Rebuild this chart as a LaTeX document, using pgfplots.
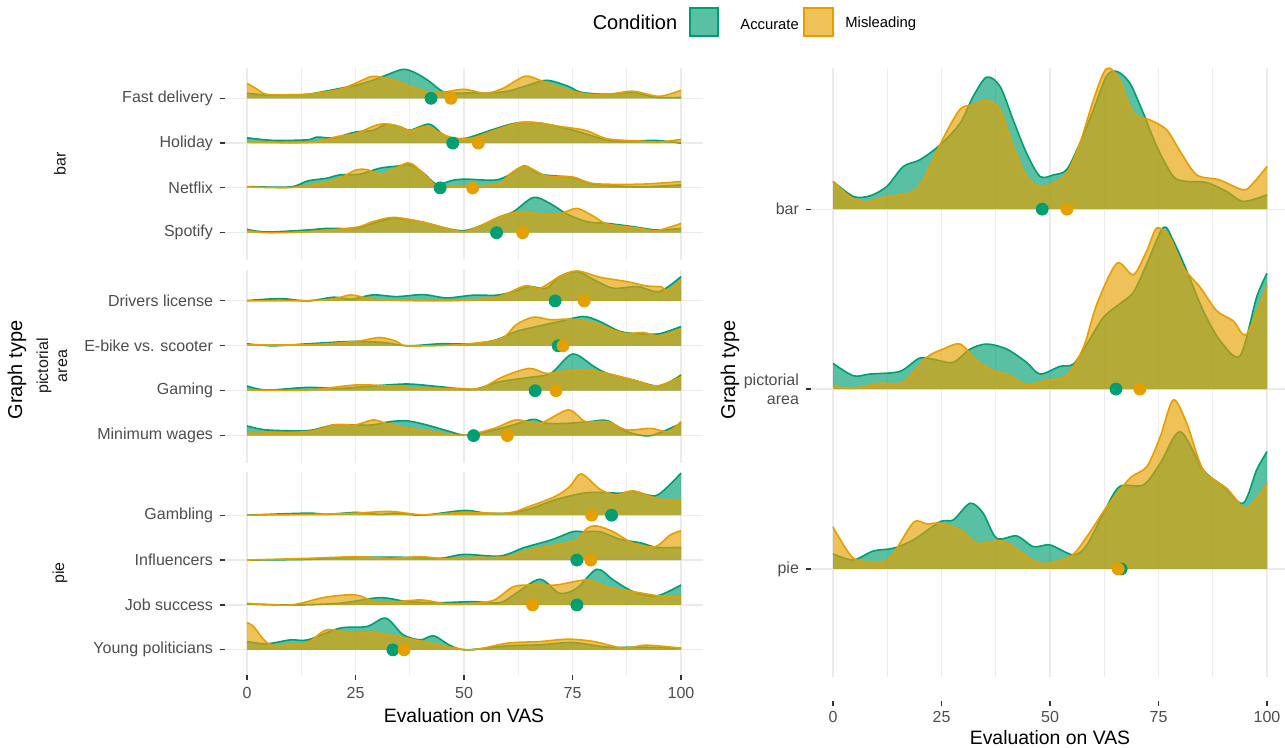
\documentclass[border=0pt]{standalone}
\usepackage{fontspec}
\setmainfont{Liberation Sans}
\usepackage{pgfplots}
\pgfplotsset{compat=1.18}
\usepackage{pgfplotstable}

\definecolor{acc}{HTML}{009E73}
\definecolor{mis}{HTML}{E69F00}
\definecolor{gridc}{HTML}{EBEBEB}
\definecolor{tickc}{HTML}{333333}
\definecolor{labc}{HTML}{4D4D4D}
\definecolor{stripc}{HTML}{1A1A1A}

% heights h are in pixels of the reference above each ridge's baseline
% ---------- left panel, bar ----------
\pgfplotstableread{
x h
0 5
4.5 3.3
10 3.5
14 4
17.6 6.7
25 13
29 18
32 23
36 29
39 25
42 17
45 7
48 5
52 5.5
55 5
60 7
64 12
69 18
74 12
77 6
83 4
89 6
94 1
100 0.8
}\FDa
\pgfplotstableread{
x h
0 15
2 10
4.5 4
10 3.5
14 4
21.4 9
26 17
29 22
33 19
37 13
41 7
45 6
50 9
55 5
59 10
64 22
67.5 18
71 12
75 7
79 4
84 4.5
89 7
95 2
100 8
}\FDm
\pgfplotstableread{
x h
0 5.3
6 2.7
14 3.3
16 6
20 5.3
25 11
29 12.7
32 18.7
35 16.7
37.6 13
42 19
45 9
47.5 5
50.6 5
57 14
62 20
67.5 20
75 13
83 3
87.5 1.7
94 2.7
100 0
}\HOa
\pgfplotstableread{
x h
0 1
10 0.3
16 1.3
21 6.7
25 9.3
29 16.7
31.4 19.3
34.5 17.3
37.6 12.7
41.4 16.7
44.5 10
47.5 5
52 5
57 12.7
63 20.7
67.5 20
72 16.7
78 12.7
83 4.3
90.6 2
95 1
100 3.7
}\HOm
\pgfplotstableread{
x h
0 1.3
10 1
14 7
18.4 9.7
21.4 13
26 13.7
30.6 19.7
34.5 21.7
37.6 23
40.6 15
43.7 3.7
47.5 7.7
50.6 8.7
57 7.7
60 12
64 22
67.5 13.7
75 10.3
80 3.7
90.6 1
100 3
}\NEa
\pgfplotstableread{
x h
0 1
10 0.3
18 5.3
21.4 9.7
25 17.7
27.6 18.3
31.4 13.7
37 25
40 17
43.7 2
47.5 1
52 2
58 3.7
60.6 13.7
64 21.7
69 12
75 11
80 4.3
90.6 3.7
100 6.3
}\NEm
\pgfplotstableread{
x h
0 3.3
4.5 0.7
14 2.7
18.4 4.3
25 4.3
29 9.3
33.7 14.3
40 11
46 4.3
50 2
53.7 6.7
58.3 16
61.4 21
66 35.3
69.8 29.3
73.7 18.7
78.3 11
83 9.3
89 6
94.4 2.7
100 4.3
}\SPa
\pgfplotstableread{
x h
0 2
4.5 0
14 1
25 5.3
29 11
33.7 15.3
40 11
46 4.3
50 1
53.7 6.7
58.3 16
63 21
67.5 18.7
72 18.7
76 24.3
80 16
83 8.7
90.6 4.3
94.4 2
100 9.3
}\SPm
% ---------- left panel, pictorial area ----------
\pgfplotstableread{
x h
0 0.3
7.6 2.3
14 0
20 3.7
24 1.7
29 6
34.5 4.3
40.6 6.3
46 3
52 5.7
57.5 5.7
61.4 9.3
65 14.3
69 12.7
72 24.3
76 29.3
80 21
84.4 12.7
90 14.3
95 9.3
100 24.3
}\DLa
\pgfplotstableread{
x h
0 0
14 0.3
20 2
24 6
29 1.7
37 0.3
48 0.3
57.5 3.7
64 15
67.5 12.7
72 24.3
76 30
81.3 23.7
87.5 19.3
92 15
95.5 14
97 10
100 21
}\DLm
\pgfplotstableread{
x h
0 2
6 0
14 2
24 4.3
31.4 3.3
37 0
44.5 2
52 2
57.5 6
62 14.3
67.5 20
72 24.3
77.5 29.3
81.3 24.3
86 14.3
90.6 12
95 12
100 19.3
}\EBa
\pgfplotstableread{
x h
0 1
14 1
25 4.3
30.6 8.3
34.5 4.3
37 0
48.3 1
58.3 6.7
62 21
66 28.7
70 26
74.4 26.7
80 22.7
86.7 12.7
91.3 13.3
95 10
100 16.7
}\EBm
\pgfplotstableread{
x h
0 4.7
4.5 0.7
14 3.3
21.4 2.3
29 4.7
37 6.7
44.5 4
52 1.3
58.3 9
65 13.3
70 17.3
75 36.7
80 24
83 17.3
89 10.7
95 4.7
100 15.7
}\GAa
\pgfplotstableread{
x h
0 0.7
14 0.7
25 5.7
33 4.7
40.6 2.3
48.3 2.3
53.7 2.3
59 14
65 22.3
69 17.3
74 20
78.3 20.7
83 17.3
89 10.7
94.4 4.7
100 14
}\GAm
\pgfplotstableread{
x h
0 9.7
4.5 5.7
14 5
20 10.7
25 10.7
29 10.7
33 14
37 14.7
41.4 10.7
46 5
50.6 0.3
57 5.7
61.4 10.7
66 16.3
69 12.3
74 12.3
79 14
83 15
87.5 4
93 0
100 12.3
}\MWa
\pgfplotstableread{
x h
0 2.3
14 4
20 10.7
25 10.7
29 15.7
32 12.3
37 7.3
41.4 5
46 1.7
50.6 0.5
57 7.3
62 15.7
67.5 12.3
74 25.7
78 14
83 14
87.5 5.7
93 7.3
97 4
100 14
}\MWm
% ---------- left panel, pie ----------
\pgfplotstableread{
x h
0 0
14 2
18.4 0.7
25 2.7
30.6 0.7
34.5 2
40.6 0
50 4.7
55 2
60 2
65 6
71 15.3
77.5 22
81.3 22.7
86 22
89 23.7
94 19.3
97 28.7
100 42
}\GBa
\pgfplotstableread{
x h
0 0
14 0.7
25 2
33 3.7
40.6 0.3
50 2.7
60 2
65 8.7
71 18.7
74.4 28.7
77 41.3
81.3 26
85 20.3
89 24.3
94 17
97 14.7
100 14.7
}\GBm
\pgfplotstableread{
x h
0 0
14 0.7
25 2.7
37 2.7
44.5 1.7
50 5.7
58.3 4
64 12.7
70 20
75 28.3
77.5 28.3
81.3 28.3
86 20.7
90.6 17.3
94.4 12.7
100 12.7
}\INa
\pgfplotstableread{
x h
0 0
14 1.7
25 3.3
33 1.7
40 3.3
46 1.3
52 2.7
60 3.3
65 10
71 15
76 20
78.3 31.7
80.6 34
84.4 28.3
89 16.7
94 13.3
97.5 25
100 29.3
}\INm
\pgfplotstableread{
x h
0 1
10 0
21.4 1.7
30.6 7.3
37 3.3
44.5 2.3
52 3.3
58.3 2.3
62 11.7
67.5 25.7
72 11.7
76 16.7
80.6 35.7
84.4 25
89 13.3
94.4 9
100 20
}\JSa
\pgfplotstableread{
x h
0 1.7
10 0
18 7.7
25 10
30.6 2.3
40 5
46 1
52 1.5
57 5
61.4 18.3
66 20
71.3 20
78.3 25
83 17.7
89 13.3
95 9
100 8.3
}\JSm
\pgfplotstableread{
x h
0 8.3
4.5 6
10 10
14 10
21.4 21.7
27.6 23.3
32 31.7
36 15
40 10
43 14
47 4
50.6 0
60 4
67.5 5
75 7.3
83 2.7
90.6 2.7
100 1.7
}\YPa
\pgfplotstableread{
x h
0 27.3
1.5 23.3
5 6
10 5
14 7.3
18.4 20
24 16.7
29 17.3
35 13.3
40.6 8.3
46 3.3
52 0
60 6.7
67.5 8.3
74 10.7
80 8.3
86.7 1.7
92 4.7
100 1.7
}\YPm
% ---------- right panel ----------
\pgfplotstableread{
x h
0 27.7
4.7 12.7
8.5 13.3
12.4 22.7
16.2 42.7
20 49.3
24.7 64.3
29.3 86
32.3 112.7
35.4 132
38.5 122.7
41.5 89.3
44.6 56
47.7 32.7
50.8 34.3
53.8 39.3
56.9 66
60 99.3
63 132.7
65.4 137.7
68.4 126
71.5 96
74.6 62.7
78.4 32.7
81.5 27.7
86 26.7
90.7 17.7
94.5 7.7
100 14.3
}\RBa
\pgfplotstableread{
x h
0 27.7
4.7 10
8.5 7.7
12.4 12.7
17.7 16
20.8 29.3
25.4 71
29.3 100
32.3 104.3
35.4 108.7
38.5 99.3
41.5 62.7
44.6 32.7
47.7 22
50.8 26
53.8 35.3
56.9 66
60 109.3
62.3 136
63.8 141
66 129.3
69.2 96
73 89.3
76.9 79.3
80 57.7
83.8 34.3
89 29.3
94.5 19.3
96.8 26
100 42.7
}\RBm
\pgfplotstableread{
x h
0 25.7
4.7 13.3
8.5 15
15.4 17.7
20 31
23.9 29
27.7 26.7
31.6 40
35.4 45
40 40
44.6 26.7
47.7 15
52.3 22.7
55.4 25
58.5 45
62.3 71.7
66 85
69.2 96.7
72.3 125
76.1 161.7
78.4 148.3
81.5 118.3
85.3 78.3
89.2 48.3
93.8 33.3
97.6 91.7
100 115.7
}\RPa
\pgfplotstableread{
x h
0 2.7
4.7 0.7
10.8 5.7
16.2 6.7
21.6 31.7
25.4 40
29.3 45
33.1 28.3
37 18.3
40 15
44.6 4.3
49.2 9
53.8 13.3
57.7 41.7
60.8 85
65.4 125.7
69.2 114.3
72.3 138.3
74.6 161
77.6 151.7
80.7 121.7
84.6 101.7
88.4 78.3
92.2 68.3
95.3 55
100 103.3
}\RPm
\pgfplotstableread{
x h
0 15
4.7 9
9.3 18
13.9 20.7
18.5 29
24.7 47.3
27.7 49
31.6 65.7
34.6 55.7
37.7 30.7
42.3 33
46.2 22.3
50 24
55.4 14
58.5 24
62.3 55.7
66 82.3
71.5 84
75.4 105.7
80 137.3
85.3 99
90 82.3
94.5 65.7
97.6 99
100 117.3
}\RIa
\pgfplotstableread{
x h
0 42.3
0.8 35.7
4.7 10.7
9.3 7.3
13.1 10.7
18.5 46.3
21.6 45
24.7 45.7
29.3 39
33.1 25.7
38.5 28.3
41.5 22.3
47.7 5.7
54.6 12.3
58.5 32.3
63.1 62.3
68.4 90.7
72.3 102.3
75.4 132.3
78.4 169
81.5 145.7
85.3 99
90.7 80.7
95.3 60.7
100 85
}\RIm

\pgfplotsset{
  ridgeax/.style={
    scale only axis, x=2.17pt, xmin=-5.07, xmax=105.07,
    axis line style={draw=none},
    tick pos=left, tick align=outside,
    major tick length=2.5pt, minor tick length=0pt,
    tick style={draw=tickc, line width=0.6pt},
    xtick={0,25,50,75,100}, minor xtick={12.5,37.5,62.5,87.5},
    xmajorgrids, xminorgrids, ymajorgrids,
    major grid style={draw=gridc, line width=0.6pt},
    minor grid style={draw=gridc, line width=0.4pt},
    ticklabel style={font=\fontsize{8}{9.5}\selectfont, text=labc},
    yticklabel style={align=right},
    /pgf/number format/assume math mode=true,
    clip=false, anchor=south west,
  },
  rowax/.style={
    scale only axis, hide axis, x=2.17pt, y=0.5pt,
    xmin=-5.07, ymin=0, ymax=200, clip=false, anchor=south west,
  }
}

% one ridge row: #1 left edge, #2 baseline, #3 accurate table, #4 misleading table,
% #5 accurate mean, #6 misleading mean, #7 xmax
\newcommand\ridgerow[7]{%
\begin{axis}[rowax, at={(#1,#2)}, xmax=#7]
\addplot[draw=none, fill=acc, fill opacity=0.65, smooth] table[x=x, y=h] {#3} \closedcycle;
\addplot[draw=acc, line width=0.8pt, smooth] table[x=x, y=h] {#3};
\addplot[draw=none, fill=mis, fill opacity=0.65, smooth] table[x=x, y=h] {#4} \closedcycle;
\addplot[draw=mis, line width=0.8pt, smooth] table[x=x, y=h] {#4};
\addplot[only marks, mark=*, mark size=3pt, color=acc] coordinates {(#5,0)};
\addplot[only marks, mark=*, mark size=3pt, color=mis] coordinates {(#6,0)};
\end{axis}}

\begin{document}
\begin{tikzpicture}
\useasboundingbox (0pt,0pt) rectangle (642.5pt,374pt);

% ===== left facets: grids, ticks, labels =====
\begin{axis}[ridgeax, y=22.4pt, ymin=0.39, ymax=4.68, at={(112.5pt,244pt)},
  xticklabels={}, xtick style={draw=none},
  ytick={1,2,3,4}, yticklabels={Spotify,Netflix,Holiday,Fast delivery}]
\addplot[draw=none] coordinates {(0,1)};
\end{axis}
\begin{axis}[ridgeax, y=22.45pt, ymin=0.39, ymax=4.69, at={(112.5pt,142.5pt)},
  xticklabels={}, xtick style={draw=none},
  ytick={1,2,3,4}, yticklabels={Minimum wages,Gaming,E-bike vs. scooter,Drivers license}]
\addplot[draw=none] coordinates {(0,1)};
\end{axis}
\begin{axis}[ridgeax, y=22.45pt, ymin=0.44, ymax=4.96, at={(112.5pt,36.5pt)},
  ytick={1,2,3,4}, yticklabels={Young politicians,Job success,Influencers,Gambling}]
\addplot[draw=none] coordinates {(0,1)};
\end{axis}

% ===== right panel frame =====
\begin{axis}[ridgeax, y=89.95pt, xmin=-5.07, xmax=104.15, ymin=0.266, ymax=3.785,
  at={(405.5pt,23.5pt)}, xmajorgrids=false, xminorgrids=false,
  ytick={1,2,3}, yticklabels={pie,{pictorial\\area},bar},
  xticklabel style={yshift=1pt}]
\addplot[draw=none] coordinates {(0,1)};
\pgfplotsinvokeforeach{0,25,50,75,100}{\draw[gridc, line width=0.6pt] (axis cs:#1,0.4) -- (axis cs:#1,3.785);}
\pgfplotsinvokeforeach{12.5,37.5,62.5,87.5}{\draw[gridc, line width=0.4pt] (axis cs:#1,0.4) -- (axis cs:#1,3.785);}
\end{axis}

% ===== ridges: bar =====
\ridgerow{112.5pt}{324.85pt}{\FDa}{\FDm}{42.4}{47.0}{105.07}
\ridgerow{112.5pt}{302.45pt}{\HOa}{\HOm}{47.4}{53.3}{105.07}
\ridgerow{112.5pt}{280.05pt}{\NEa}{\NEm}{44.5}{52.0}{105.07}
\ridgerow{112.5pt}{257.65pt}{\SPa}{\SPm}{57.5}{63.5}{105.07}
% ===== ridges: pictorial area =====
\ridgerow{112.5pt}{223.54pt}{\DLa}{\DLm}{71}{77.7}{105.07}
\ridgerow{112.5pt}{201.09pt}{\EBa}{\EBm}{71.7}{72.8}{105.07}
\ridgerow{112.5pt}{178.64pt}{\GAa}{\GAm}{66.4}{71.2}{105.07}
\ridgerow{112.5pt}{156.19pt}{\MWa}{\MWm}{52.2}{60}{105.07}
% ===== ridges: pie =====
\ridgerow{112.5pt}{116.42pt}{\GBa}{\GBm}{84}{79.4}{105.07}
\ridgerow{112.5pt}{93.97pt}{\INa}{\INm}{76}{79.2}{105.07}
\ridgerow{112.5pt}{71.52pt}{\JSa}{\JSm}{76}{65.8}{105.07}
\ridgerow{112.5pt}{49.07pt}{\YPa}{\YPm}{33.6}{36.2}{105.07}
% ===== ridges: right panel =====
\ridgerow{405.5pt}{269.42pt}{\RBa}{\RBm}{48.2}{53.9}{104.15}
\ridgerow{405.5pt}{179.47pt}{\RPa}{\RPm}{65.2}{70.7}{104.15}
\ridgerow{405.5pt}{89.52pt}{\RIa}{\RIm}{66.4}{65.7}{104.15}

% ===== texts =====
\node[font=\fontsize{8}{9.5}\selectfont, text=stripc, rotate=90] at (30pt,292pt) {bar};
\node[font=\fontsize{8}{9.5}\selectfont, text=stripc, rotate=90, align=center] at (26pt,191pt) {pictorial\\area};
\node[font=\fontsize{8}{9.5}\selectfont, text=stripc, rotate=90] at (30pt,87.5pt) {pie};
\node[font=\fontsize{10}{12}\selectfont, rotate=90] at (8.5pt,189pt) {Graph type};
\node[font=\fontsize{10}{12}\selectfont, rotate=90] at (365pt,189pt) {Graph type};
\node[font=\fontsize{9.7}{11}\selectfont] at (232pt,16pt) {Evaluation on VAS};
\node[font=\fontsize{9.7}{11}\selectfont] at (525pt,5pt) {Evaluation on VAS};
% legend
\node[font=\fontsize{10}{12}\selectfont] at (317.5pt,363pt) {Condition};
\draw[acc, line width=0.6pt, fill=acc, fill opacity=0.65] (345pt,356pt) rectangle (359pt,370pt);
\node[font=\fontsize{7.4}{9}\selectfont, anchor=west, inner sep=0pt] at (370pt,362pt) {Accurate};
\draw[mis, line width=0.6pt, fill=mis, fill opacity=0.65] (402pt,356pt) rectangle (416.5pt,370pt);
\node[font=\fontsize{7.4}{9}\selectfont, anchor=west, inner sep=0pt] at (422.5pt,362pt) {Misleading};
\end{tikzpicture}
\end{document}
